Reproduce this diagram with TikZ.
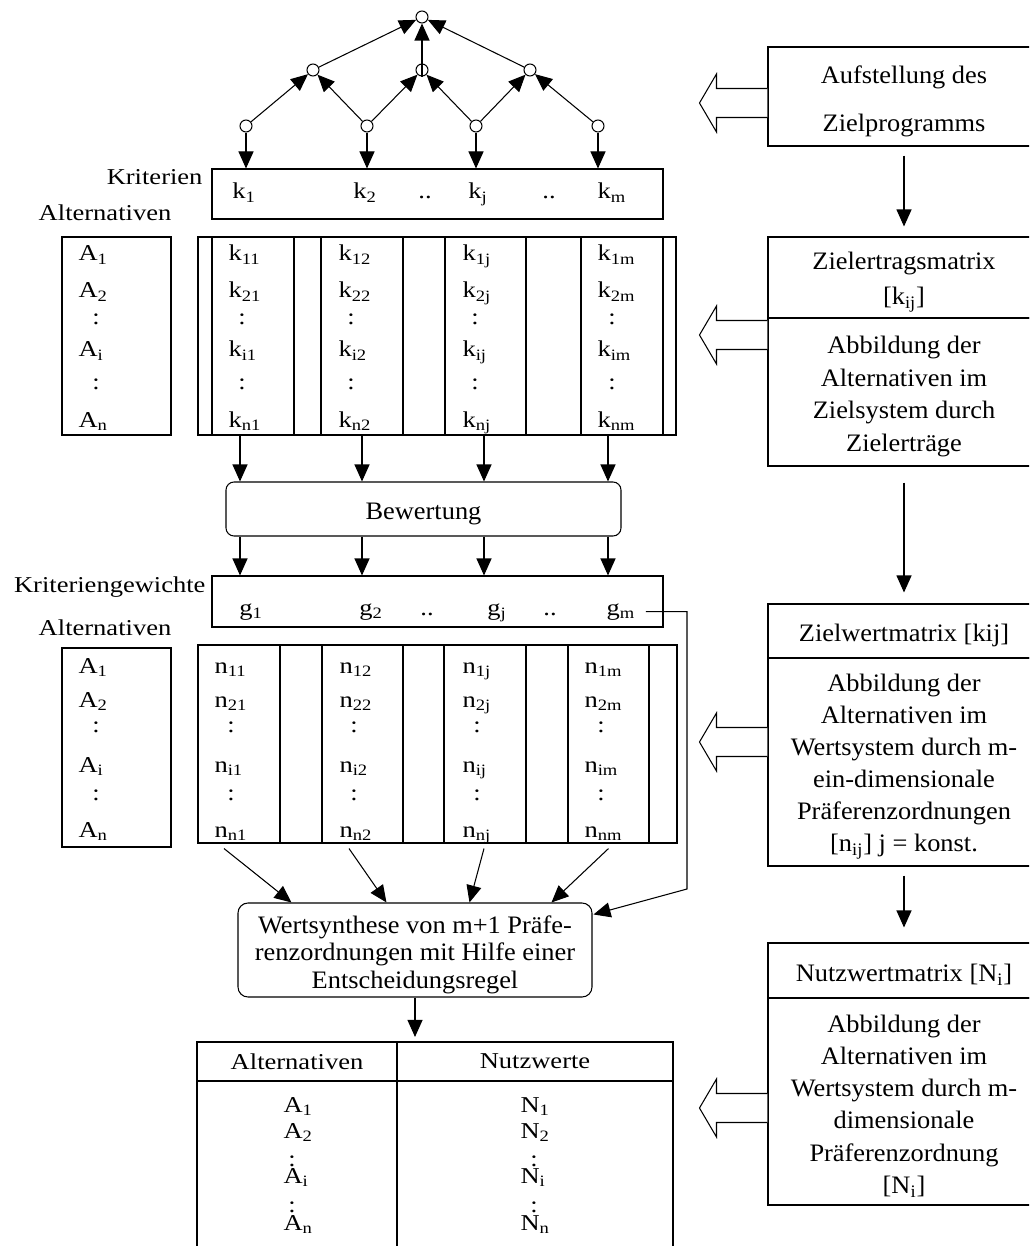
\documentclass[tikz,border=0pt]{standalone}
\usepackage{fontspec}
\setmainfont{Liberation Serif}[FakeStretch=1.05]
\newfontfamily\wideserif{Liberation Serif}[FakeStretch=1.17]
\usetikzlibrary{arrows.meta,positioning,calc,fit}

\newcommand{\sbs}[2]{#1\textsubscript{#2}}
\newcommand{\mtxt}{\fontsize{14.3}{18.6}\selectfont}
\newcommand{\ltxt}{\wideserif\fontsize{12.9}{15}\selectfont}

\tikzset{
  arr/.style={-{Triangle[length=0.34cm,width=0.3cm]}},
  knot/.style={circle,draw,fill=white,minimum size=0.24cm,inner sep=0pt},
  box/.style={draw,inner sep=0pt},
  rbox/.style={draw,inner sep=0pt},
  rtxt/.style={align=center,font=\mtxt,yshift=-0.09cm},
  tbl/.style={draw,inner sep=0pt,line width=1.2pt}
}

\begin{document}
\begin{tikzpicture}[x=0.02cm,y=-0.02cm,line width=0.6pt,
  every node/.style={font=\ltxt,inner sep=0pt}]
\useasboundingbox (0,0) rectangle (1029,1246);
\clip (0,0) rectangle (1029,1246);

% Zielhierarchie
\node[knot] (top) at (422,17) {};
\node[knot] (m1) at (313,70) {};
\node[knot] (m2) at (422,70) {};
\node[knot] (m3) at (530,70) {};
\node[knot] (l1) at (246,126) {};
\node[knot] (l2) at (367,126) {};
\node[knot] (l3) at (476,126) {};
\node[knot] (l4) at (598,126) {};
\foreach \a/\b in {l1/m1,l2/m1,l2/m2,l3/m2,l3/m3,l4/m3,m1/top,m3/top}
  \draw[arr] (\a) -- (\b);
\draw[arr] (m2.south) -- (top);

% Kriterien
\node[box,fit={(212,169) (663,219)}] (kb) {};
\node[anchor=base east] (krit) at (203,185) {Kriterien};
\node[anchor=base] (alt1) at (105,221) {Alternativen};
\foreach \n/\x/\t in {kl1/244/\sbs{k}{1}, kl2/365/\sbs{k}{2}, kp1/425/.., klj/478/\sbs{k}{j}, kp2/549/.., klm/612/\sbs{k}{m}}
  \node[anchor=base] (\n) at (\x,199) {\t};
\foreach \i in {1,...,4}
  \draw[arr] (l\i.south) -- (l\i.south |- kb.north);

\foreach \i/\x in {1/240,2/362,3/484,4/608}
  \coordinate (cx\i) at (\x,0);

% Zielertragsmatrix
\node[box,fit={(62,237) (171,435)}] (ka) {};
\node[box,fit={(198,237) (676,435)}] (kmat) {};
\foreach \i/\a/\b in {1/212/294,2/321/403,3/445/526,4/581/663}
  \node[box,fit={(\a,237) (\b,435)}] (kc\i) {};
\foreach \y/\r in {261/1,298/2,357/i,427/n} {
  \node[anchor=base west] (ka\r) at (78,\y) {\sbs{A}{\r}};
  \foreach \x/\j in {228/1,338/2,462/j,597/m}
    \node[anchor=base west] (k\r\j) at (\x,\y) {\sbs{k}{\r\j}};
}
\foreach \y/\r in {325/a,390/b} {
  \node[anchor=base] (kad\r) at (96,\y) {:};
  \foreach \x/\j in {242/1,351/2,475/j,612/m}
    \node[anchor=base] (kd\r\j) at (\x,\y) {:};
}

% Bewertung und Kriteriengewichte
\node[box,rounded corners=0.16cm,fit={(226,482) (621,536)}] (bew) {};
\node[font=\mtxt,yshift=-0.1cm] (bewtxt) at (bew.center) {Bewertung};
\node[box,fit={(212,576) (663,627)}] (gb) {};
\foreach \i in {1,...,4} {
  \draw[arr] (kmat.south -| cx\i) -- (bew.north -| cx\i);
  \draw[arr] (bew.south -| cx\i) -- (gb.north -| cx\i);
}
\node[anchor=base east] (kgew) at (206,592) {Kriteriengewichte};
\node[anchor=base] (alt2) at (105,635) {Alternativen};
\foreach \n/\x/\t in {g1/251/\sbs{g}{1}, g2/371/\sbs{g}{2}, gp1/427/.., gj/497/\sbs{g}{j}, gp2/550/.., gm/621/\sbs{g}{m}}
  \node[anchor=base] (\n) at (\x,615) {\t};

% Zielwertmatrix
\node[box,fit={(62,648) (171,847)}] (na) {};
\node[box,fit={(198,645) (677,843)}] (nmat) {};
\foreach \i/\a/\b in {1/198/280,2/322/403,3/444/526,4/568/649}
  \node[box,fit={(\a,645) (\b,843)}] (nc\i) {};
\foreach \y/\r in {673/1,707/2,772/i,837/n} {
  \node[anchor=base west] (na\r) at (78,\y) {\sbs{A}{\r}};
  \foreach \x/\j in {214/1,339/2,462/j,584/m}
    \node[anchor=base west] (n\r\j) at (\x,\y) {\sbs{n}{\r\j}};
}
\foreach \y/\r in {732/a,800/b} {
  \node[anchor=base] (nad\r) at (96,\y) {:};
  \foreach \x/\j in {231/1,354/2,477/j,601/m}
    \node[anchor=base] (nd\r\j) at (\x,\y) {:};
}

% Wertsynthese
\node[box,rounded corners=0.2cm,fit={(238,903) (592,997)}] (ws) {};
\node[align=center,font=\fontsize{14.3}{15.6}\selectfont,yshift=-0.09cm] (wstxt) at (ws.center)
  {Wertsynthese von m+1 Präfe-\\renzordnungen mit Hilfe einer\\Entscheidungsregel};
\foreach \i/\dx/\ex in {1/-15/54,2/-13.5/149,3/-1/232,4/0/314}
  \draw[arr] ($(nc\i.south)+(\dx,5)$) -- ($(ws.north west)+(\ex,0)$);
\coordinate (gbend) at (687,889);
\draw[arr] (gm.east) ++(10,0) -- (gm.east -| gbend) -- (gbend) -- ($(ws.north east)+(1,12)$);

% Nutzwerte
\node[tbl,fit={(197,1042) (397,1081)}] (th1) {};
\node[tbl,fit={(397,1042) (673,1081)}] (th2) {};
\node[tbl,fit={(197,1081) (397,1260)}] (tb1) {};
\node[tbl,fit={(397,1081) (673,1260)}] (tb2) {};
\node (th1txt) at (th1.center) {Alternativen};
\node (th2txt) at (th2.center) {Nutzwerte};
\draw[arr,shorten >=0.08cm] (ws.south) -- (ws.south |- th1.north);
\foreach \y/\r in {1112/1,1138/2,1183/i,1230/n} {
  \node[anchor=base west] (ta\r) at (283,\y) {\sbs{A}{\r}};
  \node[anchor=base west] (tn\r) at (520,\y) {\sbs{N}{\r}};
}
\foreach \y/\r in {1166/a,1212/b} {
  \node[anchor=base] (tad\r) at (292,\y) {:};
  \node[anchor=base] (tnd\r) at (534,\y) {:};
}

% rechte Spalte
\node[rbox,fit={(768,47) (1040,146)}] (auf) {};
\node[rtxt,font=\fontsize{14.3}{27.3}\selectfont] (auftxt) at (auf.center)
  {Aufstellung des\\Zielprogramms};
\node[rbox,fit={(768,237) (1040,318)}] (zet) {};
\node[rtxt,font=\fontsize{14.3}{20}\selectfont] (zettxt) at (zet.center)
  {Zielertragsmatrix\\{}[\sbs{k}{ij}]};
\node[rbox,fit={(768,318) (1040,466)}] (zeta) {};
\node[rtxt] (zetatxt) at (zeta.center)
  {Abbildung der\\Alternativen im\\Zielsystem durch\\Zielerträge};
\node[rbox,fit={(768,604) (1040,658)}] (zwm) {};
\node[rtxt] (zwmtxt) at (zwm.center) {Zielwertmatrix [kij]};
\node[rbox,fit={(768,658) (1040,866)}] (zwma) {};
\node[rtxt,font=\fontsize{14.3}{18.3}\selectfont] (zwmatxt) at (zwma.center)
  {Abbildung der\\Alternativen im\\Wertsystem durch m-\\ein-dimensionale\\Präferenzordnungen\\{}[\sbs{n}{ij}] j = konst.};
\node[rbox,fit={(768,943) (1040,998)}] (nwm) {};
\node[rtxt] (nwmtxt) at (nwm.center) {Nutzwertmatrix [\sbs{N}{i}]};
\node[rbox,fit={(768,998) (1040,1205)}] (nwma) {};
\node[rtxt,font=\fontsize{14.3}{18.3}\selectfont] (nwmatxt) at (nwma.center)
  {Abbildung der\\Alternativen im\\Wertsystem durch m-\\dimensionale\\Präferenzordnung\\{}[\sbs{N}{i}]};

\draw[arr,shorten <=0.18cm,shorten >=0.2cm] (auf.south) -- (zet.north);
\draw[arr,shorten <=0.32cm,shorten >=0.22cm] (zeta.south) -- (zwm.north);
\draw[arr,shorten <=0.18cm,shorten >=0.3cm] (zwma.south) -- (nwm.north);

\foreach \n/\d in {auf/6.5,zeta/-57,zwma/-20,nwma/6.5}
  \draw[fill=white] ($(\n.west)+(0,\d)$) ++(0,-14.5) -- ++(-51,0) -- ++(0,-14.5)
    -- ++(-17,29) -- ++(17,29) -- ++(0,-14.5) -- ++(51,0);

\end{tikzpicture}
\end{document}
